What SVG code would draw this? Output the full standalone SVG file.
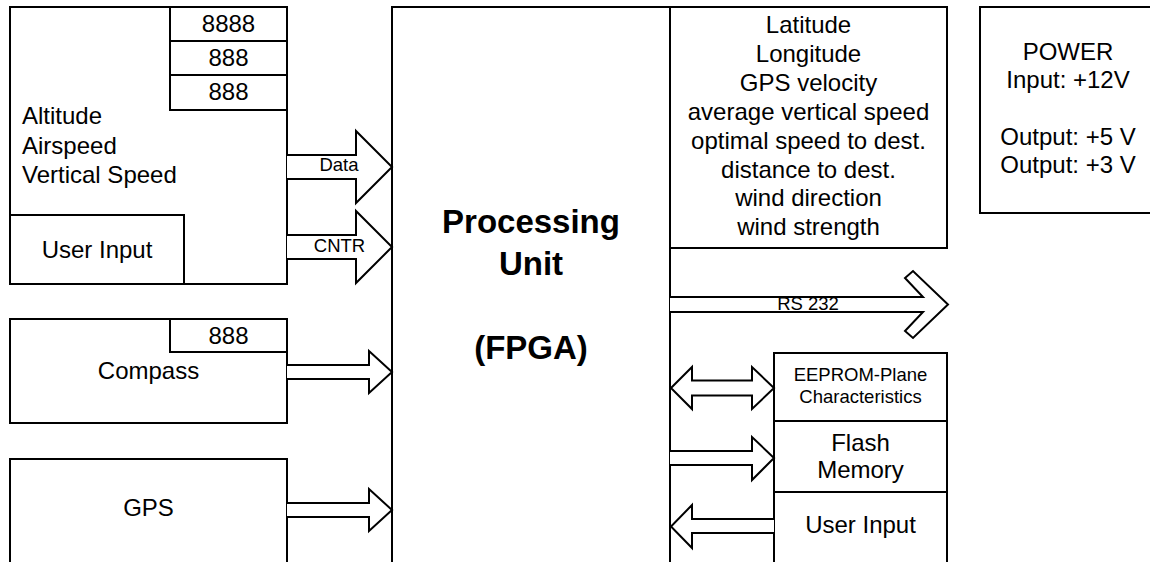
<svg xmlns="http://www.w3.org/2000/svg" width="1150" height="562" viewBox="0 0 1150 562">
  <style>
    .box { fill: #fff; stroke: #000; stroke-width: 2; }
    .arrow { fill: #fff; stroke: #000; stroke-width: 2; stroke-linejoin: miter; }
    text { font-family: "Liberation Sans", Arial, sans-serif; fill: #000; }
    .t { font-size: 24px; }
    .c { text-anchor: middle; }
    .lbl { font-size: 18.5px; text-anchor: middle; }
    .big { font-size: 33px; font-weight: bold; text-anchor: middle; }
    .sm { font-size: 18.5px; text-anchor: middle; }
  </style>
  <rect width="1150" height="562" fill="#fff"/>

  <!-- Air data unit with displays and user input -->
  <g id="airdata">
    <rect class="box" x="10" y="7" width="277" height="277"/>
    <rect class="box" x="170" y="7" width="117" height="34"/>
    <rect class="box" x="170" y="41" width="117" height="34"/>
    <rect class="box" x="170" y="75" width="117" height="35"/>
    <text class="t c" x="228.5" y="32">8888</text>
    <text class="t c" x="228.5" y="66">888</text>
    <text class="t c" x="228.5" y="100">888</text>
    <text class="t" x="22" y="124">Altitude</text>
    <text class="t" x="22" y="153.5">Airspeed</text>
    <text class="t" x="22" y="183">Vertical Speed</text>
  </g>
  <g id="user-input-left">
    <rect class="box" x="10" y="215" width="174" height="69"/>
    <text class="t c" x="97" y="257.5">User Input</text>
  </g>

  <!-- Compass -->
  <g id="compass">
    <rect class="box" x="10" y="319" width="277" height="104"/>
    <rect class="box" x="170" y="319" width="117" height="33"/>
    <text class="t c" x="228.5" y="344">888</text>
    <text class="t c" x="148.5" y="379">Compass</text>
  </g>

  <!-- GPS -->
  <g id="gps">
    <rect class="box" x="10" y="459" width="277" height="120"/>
    <text class="t c" x="148.5" y="516">GPS</text>
  </g>

  <!-- Processing unit -->
  <g id="processing-unit">
    <rect class="box" x="392" y="7" width="278" height="572"/>
    <text class="big" x="531" y="233">Processing</text>
    <text class="big" x="531" y="275">Unit</text>
    <text class="big" x="531" y="359">(FPGA)</text>
  </g>

  <!-- Computed values display -->
  <g id="nav-values">
    <rect class="box" x="670" y="7" width="277" height="241"/>
    <text class="t c" x="808.5" y="33">Latitude</text>
    <text class="t c" x="808.5" y="62">Longitude</text>
    <text class="t c" x="808.5" y="91">GPS velocity</text>
    <text class="t c" x="808.5" y="120">average vertical speed</text>
    <text class="t c" x="808.5" y="149">optimal speed to dest.</text>
    <text class="t c" x="808.5" y="178">distance to dest.</text>
    <text class="t c" x="808.5" y="206">wind direction</text>
    <text class="t c" x="808.5" y="235">wind strength</text>
  </g>

  <!-- Power supply -->
  <g id="power">
    <rect class="box" x="980" y="7" width="190" height="206"/>
    <text class="t c" x="1068" y="60">POWER</text>
    <text class="t c" x="1068" y="88">Input: +12V</text>
    <text class="t c" x="1068" y="145">Output: +5 V</text>
    <text class="t c" x="1068" y="173">Output: +3 V</text>
  </g>

  <!-- Memory and input stack -->
  <g id="eeprom">
    <rect class="box" x="774" y="353" width="173" height="68"/>
    <text class="sm" x="860.5" y="381">EEPROM-Plane</text>
    <text class="sm" x="860.5" y="403">Characteristics</text>
  </g>
  <g id="flash">
    <rect class="box" x="774" y="421" width="173" height="71"/>
    <text class="t c" x="860.5" y="451">Flash</text>
    <text class="t c" x="860.5" y="478">Memory</text>
  </g>
  <g id="user-input-right">
    <rect class="box" x="774" y="492" width="173" height="90"/>
    <text class="t c" x="860.5" y="533">User Input</text>
  </g>

  <!-- Block arrows -->
  <g id="connectors">
    <path class="arrow" d="M287,155 H356 V131 L392,167 L356,203 V179 H287"/>
    <text class="lbl" x="339" y="171">Data</text>
    <path class="arrow" d="M287,235 H356 V211 L392,247 L356,283 V259 H287"/>
    <text class="lbl" x="339.5" y="252">CNTR</text>
    <path class="arrow" d="M287,365 H369 V351 L392,372 L369,393 V379 H287"/>
    <path class="arrow" d="M287,503 H369 V489 L392,510 L369,531 V517 H287"/>
    <path class="arrow" d="M670,297 H923 L905,278 L913,271 L948,304.5 L913,338 L905,331 L923,312 H670"/>
    <text class="lbl" x="808" y="310">RS 232</text>
    <path class="arrow" d="M671,388 L692,367 V380.5 H752 V367 L774,388 L752,409 V395.5 H692 V409 Z"/>
    <path class="arrow" d="M670,451 H752 V437 L774,458 L752,480 V465 H670"/>
    <path class="arrow" d="M774,519 H692 V505 L671,526.5 L692,548 V533 H774"/>
  </g>
</svg>
